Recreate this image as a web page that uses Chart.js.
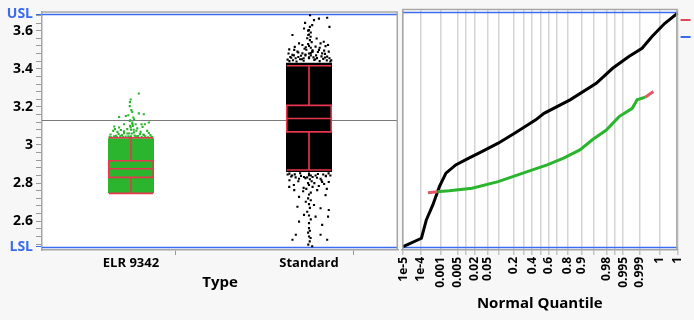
<!DOCTYPE html>
<html><head><meta charset="utf-8">
<script src="https://cdn.jsdelivr.net/npm/chart.js@4"></script>
<style>
html,body{margin:0;padding:0;background:#f7f7f7;}
#wrap{position:relative;width:694px;height:320px;overflow:hidden;}
canvas{position:absolute;top:0;}
#c1{left:0}
#c2{left:392px}
</style></head><body>
<div id="wrap"><canvas id="c1" width="402" height="320"></canvas><canvas id="c2" width="302" height="320"></canvas></div>
<script>
// ---------- data ----------
const categories = ['ELR 9342', 'Standard'];
const Y_MIN = 2.449, Y_MAX = 3.701;
const USL = 3.686, LSL = 2.465, grandMean = 3.13;

const yMajorTicks = [2.6, 2.8, 3.0, 3.2, 3.4, 3.6];
const yMajorLabels = ['2.6', '2.8', '3', '3.2', '3.4', '3.6'];
const yMinorTicks = [2.48,2.52,2.56,2.64,2.68,2.72,2.76,2.84,2.88,2.92,2.96,3.04,3.08,3.12,3.16,3.24,3.28,3.32,3.36,3.44,3.48,3.52,3.56,3.64,3.68];

// box plot stats: [whiskerLow, q1, median, q3, whiskerHigh]
const elrBox = [2.746, 2.830, 2.875, 2.917, 3.038];
const stdBox = [2.869, 3.069, 3.139, 3.208, 3.416];
// dense core of jittered points (value range)
const elrCore = [2.748, 3.035];
const stdCore = [2.858, 3.432];

// individual points (jitter offset from category centre, value)
const elrJitter = [0.044,-0.002,-0.006,-0.007,0.002,-0.029,-0.067,-0.015,0.007,0.013,0.044,0.072,0.017,-0.007,0.007,-0.094,-0.067,-0.039,0.026,0.059,0.078,0.100,-0.100,-0.076,-0.057,-0.021,-0.002,0.035,0.054,0.072,0.109,0.091,-0.085,-0.039,0.017,-0.005,0.010,0.000,0.015,-0.010,0.005,0.020,-0.015,0.000,0.030,-0.020,0.008,-0.004,
 -0.110,-0.095,-0.080,-0.060,-0.045,-0.030,-0.010,0.025,0.040,0.060,0.080,0.095,0.115,-0.115,-0.070,-0.050,0.050,0.070,0.100,-0.090,-0.040,0.030,0.065,0.120,-0.120];
const elrValues = [3.270,3.239,3.225,3.204,3.183,3.152,3.147,3.156,3.173,3.144,3.166,3.161,3.135,3.126,3.118,3.097,3.092,3.109,3.109,3.109,3.109,3.118,3.074,3.069,3.079,3.083,3.092,3.087,3.069,3.052,3.052,3.074,3.048,3.062,3.066,3.100,3.100,3.080,3.080,3.060,3.060,3.050,3.045,3.045,3.045,3.060,3.110,3.130,
 3.040,3.045,3.042,3.048,3.041,3.044,3.040,3.043,3.047,3.041,3.046,3.040,3.043,3.055,3.058,3.052,3.057,3.055,3.063,3.083,3.072,3.075,3.095,3.040,3.043];

const stdJitter = [
 0.006,-0.022,0.028,0.056,0.102,0.018,0.115,-0.028,0.000,-0.004,0.009,-0.093,0.043,-0.056,-0.037,0.065,0.083,0.093,0.107,-0.111,-0.083,-0.065,-0.018,0.037,0.056,0.074,0.111,-0.093,-0.037,0.018,0.102,
 0.005,-0.005,0.010,0.000,-0.010,0.005,0.015,-0.005,0.000,0.010,-0.015,0.020,0.000,-0.020,0.010,0.025,-0.030,0.035,-0.040,0.000,
 -0.110,-0.090,-0.070,-0.050,-0.030,0.030,0.060,0.080,0.100,0.120,-0.100,-0.060,0.000,0.045,0.090,
 -0.120,-0.105,-0.085,-0.075,-0.045,-0.020,0.010,0.040,0.070,0.090,0.115,0.125,-0.115,-0.060,0.020,0.050,0.085,-0.025,0.060,-0.080,
 -0.056,-0.028,0.037,0.065,0.074,0.111,-0.111,-0.083,-0.033,0.046,-0.056,0.093,-0.018,0.028,-0.065,0.065,0.111,-0.028,0.037,0.107,-0.056,0.074,0.000,-0.074,0.065,-0.093,0.102,0.009,-0.004,0.018,0.004,
 0.000,0.010,-0.010,0.005,0.015,-0.005,0.000,0.020,-0.015,0.010,0.000,-0.005,0.010,0.000,0.005,-0.010,0.000,0.010,0.000,0.005,-0.005,0.000,
 -0.110,-0.080,-0.050,0.050,0.080,0.110,-0.095,0.000,0.095,
 -0.120,-0.100,-0.075,-0.045,-0.020,0.020,0.045,0.070,0.095,0.120,-0.110,-0.060,0.030,0.085,-0.085,0.055,-0.030,0.100];
const stdValues = [
 3.681,3.641,3.655,3.663,3.668,3.629,3.620,3.611,3.603,3.577,3.568,3.577,3.559,3.533,3.525,3.533,3.542,3.519,3.525,3.502,3.499,3.490,3.513,3.516,3.499,3.481,3.490,3.473,3.481,3.490,3.464,
 3.620,3.600,3.590,3.580,3.560,3.550,3.540,3.530,3.520,3.510,3.500,3.490,3.480,3.470,3.470,3.460,3.455,3.450,3.450,3.455,
 3.440,3.445,3.438,3.450,3.442,3.446,3.440,3.452,3.444,3.438,3.458,3.462,3.460,3.456,3.459,
 3.448,3.462,3.470,3.455,3.468,3.475,3.482,3.470,3.465,3.478,3.455,3.445,3.480,3.485,3.497,3.488,3.495,3.505,3.510,3.515,
 2.823,2.832,2.840,2.823,2.806,2.806,2.780,2.763,2.757,2.763,2.728,2.737,2.702,2.685,2.676,2.668,2.659,2.633,2.624,2.624,2.598,2.581,2.564,2.529,2.529,2.503,2.503,2.512,2.477,2.469,2.494,
 2.850,2.840,2.830,2.820,2.810,2.800,2.790,2.780,2.770,2.750,2.740,2.720,2.710,2.690,2.670,2.650,2.630,2.610,2.590,2.550,2.540,2.520,
 2.850,2.846,2.852,2.848,2.845,2.851,2.840,2.842,2.838,
 2.845,2.835,2.830,2.838,2.826,2.832,2.828,2.815,2.836,2.840,2.815,2.810,2.800,2.795,2.790,2.785,2.775,2.770];

// normal quantile plot (x = normal quantile z, y = value)
const stdQuantZ = [-4.265,-3.696,-3.544,-3.342,-3.138,-2.934,-2.630,-2.224,-1.819,-1.310,-0.801,-0.143,0.113,0.923,1.737,2.246,2.751,3.160,3.464,3.665,3.870,4.265];
const stdQuantV = [2.466,2.510,2.605,2.683,2.778,2.848,2.891,2.926,2.960,3.004,3.056,3.125,3.159,3.229,3.315,3.393,3.454,3.497,3.557,3.592,3.627,3.679];
const elrQuantZ = [-3.495,-3.200,-2.834,-2.124,-1.310,-0.497,0.213,0.722,1.228,1.636,2.041,2.447,2.855,3.007,3.260,3.513];
const elrQuantV = [2.747,2.752,2.757,2.770,2.804,2.851,2.891,2.926,2.969,3.024,3.071,3.142,3.185,3.229,3.243,3.272];

const quantileTickProbs = [1e-5,1e-4,0.001,0.005,0.01,0.02,0.05,0.1,0.2,0.3,0.4,0.5,0.6,0.7,0.8,0.9,0.95,0.98,0.99,0.995,0.999,0.9999,0.99999];
const quantileTickLabels = ['1e-5','1e-4','0.001','0.005','','0.02','0.05','','0.2','','0.4','','0.6','','0.8','0.9','','0.98','','0.995','0.999','1','1'];

// ---------- styling ----------
const GREEN = '#2bb52f', RED = '#e8364e', BLUE = '#3b6cf0', FRAME = '#a6a6a6';
Chart.defaults.font.family = "'Open Sans', 'Noto Sans', sans-serif";
Chart.defaults.color = '#000';

function probit(p){
 const a=[-3.969683028665376e+01,2.209460984245205e+02,-2.759285104469687e+02,1.383577518672690e+02,-3.066479806614716e+01,2.506628277459239e+00];
 const b=[-5.447609879822406e+01,1.615858368580409e+02,-1.556989798598866e+02,6.680131188771972e+01,-1.328068155288572e+01];
 const c=[-7.784894002430293e-03,-3.223964580411365e-01,-2.400758277161838e+00,-2.549732539343734e+00,4.374664141464968e+00,2.938163982698783e+00];
 const d=[7.784695709041462e-03,3.224671290700398e-01,2.445134137142996e+00,3.754408661907416e+00];
 const pl=0.02425, ph=1-pl; let q,r;
 if(p<pl){q=Math.sqrt(-2*Math.log(p));return (((((c[0]*q+c[1])*q+c[2])*q+c[3])*q+c[4])*q+c[5])/((((d[0]*q+d[1])*q+d[2])*q+d[3])*q+1);}
 if(p<=ph){q=p-0.5;r=q*q;return (((((a[0]*r+a[1])*r+a[2])*r+a[3])*r+a[4])*r+a[5])*q/(((((b[0]*r+b[1])*r+b[2])*r+b[3])*r+b[4])*r+1);}
 q=Math.sqrt(-2*Math.log(1-p));return -(((((c[0]*q+c[1])*q+c[2])*q+c[3])*q+c[4])*q+c[5])/((((d[0]*q+d[1])*q+d[2])*q+d[3])*q+1);
}

const bgPlugin = {
  id:'bgFrame',
  beforeDraw(chart){
    const {ctx, chartArea:a} = chart;
    ctx.save(); ctx.fillStyle='#fff'; ctx.fillRect(a.left,a.top,a.right-a.left,a.bottom-a.top); ctx.restore();
  },
  afterDraw(chart, args, opts){
    const {ctx, chartArea:a} = chart;
    ctx.save(); ctx.strokeStyle=FRAME; ctx.lineWidth=1.5;
    ctx.beginPath();
    ctx.moveTo(a.left, a.top+0.5); ctx.lineTo(a.right, a.top+0.5);
    if (opts.left) { ctx.moveTo(a.left+0.75, a.top); ctx.lineTo(a.left+0.75, a.bottom); }
    ctx.moveTo(a.right-0.75, a.top); ctx.lineTo(a.right-0.75, a.bottom);
    ctx.stroke();
    if (opts.legendBits) {
      ctx.fillStyle = '#e04858'; ctx.fillRect(a.right+3, 19, 10, 2);
      ctx.fillStyle = BLUE; ctx.fillRect(a.right+3, 36, 10, 2);
    }
    ctx.restore();
  }
};

const refLinesPlugin = {
  id:'refLines',
  beforeDatasetsDraw(chart, args, opts){
    const {ctx, chartArea:a, scales:{y}} = chart;
    ctx.save();
    for (const l of opts.lines){
      const py = Math.round(y.getPixelForValue(l.value)) + 0.5;
      ctx.strokeStyle = l.color; ctx.lineWidth = l.width;
      ctx.beginPath(); ctx.moveTo(a.left, py); ctx.lineTo(a.right, py); ctx.stroke();
    }
    ctx.restore();
  }
};

const boxPlugin = {
  id:'boxes',
  afterDatasetsDraw(chart, args, opts){
    const {ctx, scales:{x,y}} = chart;
    ctx.save(); ctx.strokeStyle = RED; ctx.lineWidth = 1.6;
    opts.boxes.forEach((s, i) => {
      const cx = x.getPixelForValue(i + 0.5);
      const hw = (x.getPixelForValue(i + 0.5 + opts.halfWidth) - cx);
      const [wl, q1, md, q3, wh] = s.map(v => y.getPixelForValue(v));
      ctx.beginPath();
      ctx.rect(cx-hw, q3, 2*hw, q1-q3);
      ctx.moveTo(cx-hw, md); ctx.lineTo(cx+hw, md);
      ctx.moveTo(cx, q3); ctx.lineTo(cx, wh);
      ctx.moveTo(cx, q1); ctx.lineTo(cx, wl);
      ctx.moveTo(cx-hw, wh); ctx.lineTo(cx+hw, wh);
      ctx.moveTo(cx-hw, wl); ctx.lineTo(cx+hw, wl);
      ctx.stroke();
    });
    ctx.restore();
  }
};

const elrPts = elrJitter.map((o,i)=>({x:0.5+o, y:elrValues[i]}));
const stdPts = stdJitter.map((o,i)=>({x:1.5+o, y:stdValues[i]}));
const typeTickPos = [0, 0.5, 1, 1.5, 2];
const typeTickLabels = ['', categories[0], '', categories[1], ''];

const yTickValues = [LSL, ...yMinorTicks, ...yMajorTicks, USL].sort((a,b)=>a-b);
function yLabel(v){
  if (v === USL) return 'USL';
  if (v === LSL) return 'LSL';
  const k = yMajorTicks.findIndex(t => Math.abs(t - v) < 1e-9);
  return k >= 0 ? yMajorLabels[k] : '';
}
const isSpec = v => v === USL || v === LSL;

new Chart(document.getElementById('c1'), {
  type:'scatter',
  data:{datasets:[
    {type:'scatter', label:categories[0], data:elrPts, backgroundColor:GREEN, borderWidth:0, pointStyle:'rect', pointRadius:1.5},
    {type:'scatter', label:categories[1], data:stdPts, backgroundColor:'#000', borderWidth:0, pointStyle:'rect', pointRadius:1.5},
    {type:'bar', label:'core', data:[{x:0.5, y:elrCore},{x:1.5, y:stdCore}], backgroundColor:[GREEN,'#000'], borderColor:[GREEN,'#000'], barThickness:46, grouped:false, borderWidth:0, inflateAmount:0}
  ]},
  options:{
    responsive:false, animation:false, events:[],
    layout:{padding:{top:9,left:0,right:0,bottom:0}},
    plugins:{
      legend:{display:false}, tooltip:{enabled:false},
      bgFrame:{left:false},
      refLines:{lines:[{value:grandMean,color:'#7a7a7a',width:1},{value:USL,color:BLUE,width:1.5},{value:LSL,color:BLUE,width:1.5}]},
      boxes:{boxes:[elrBox, stdBox], halfWidth:0.125}
    },
    scales:{
      x:{type:'linear', min:0, max:2, offset:false,
        afterFit(s){ s.height = 70; },
        afterBuildTicks(s){ s.ticks = typeTickPos.map(v=>({value:v})); },
        ticks:{autoSkip:false, maxRotation:0, minRotation:0, padding:0, font:{size:13, weight:'bold'}, callback:(v,i)=>typeTickLabels[i]},
        grid:{drawOnChartArea:false, tickLength:5, tickColor:c => (c.tick && c.tick.value % 1 !== 0) ? 'rgba(0,0,0,0)' : '#999'},
        border:{color:FRAME, width:1.5},
        title:{display:true, text:'Type', font:{size:15, weight:'bold'}, padding:{top:0,bottom:28}}
      },
      y:{type:'linear', min:Y_MIN, max:Y_MAX,
        afterFit(s){ s.width = 42; },
        afterBuildTicks(s){ s.ticks = yTickValues.map(v=>({value:v})); },
        ticks:{autoSkip:false, padding:3, font:{size:14, weight:'bold'},
          callback:(v,i)=>yLabel(yTickValues[i]),
          color:c => isSpec(yTickValues[c.index]) ? BLUE : '#000'},
        grid:{drawOnChartArea:false, tickLength:6, tickColor:c => (c.tick && isSpec(c.tick.value)) ? BLUE : '#999'},
        border:{color:FRAME, width:1.5}
      }
    }
  },
  plugins:[bgPlugin, refLinesPlugin, boxPlugin]
});

const stdQ = stdQuantZ.map((z,i)=>({x:z, y:stdQuantV[i]}));
const elrQ = elrQuantZ.map((z,i)=>({x:z, y:elrQuantV[i]}));
const quantTickZ = quantileTickProbs.map(probit);

new Chart(document.getElementById('c2'), {
  type:'line',
  data:{datasets:[
    {label:categories[0], data:elrQ, borderColor:GREEN, borderWidth:3, pointRadius:0, tension:0,
      segment:{borderColor:c => (c.p0DataIndex === 0 || c.p0DataIndex >= elrQuantZ.length-2) ? '#df5a68' : GREEN}},
    {label:categories[1], data:stdQ, borderColor:'#000', borderWidth:3, pointRadius:0, tension:0}
  ]},
  options:{
    responsive:false, animation:false, events:[],
    layout:{padding:{top:9,left:10,right:11,bottom:0}},
    plugins:{
      legend:{display:false}, tooltip:{enabled:false},
      bgFrame:{left:true, legendBits:true},
      refLines:{lines:[{value:USL,color:BLUE,width:1.5},{value:LSL,color:BLUE,width:1.5}]}
    },
    scales:{
      x:{type:'linear', min:-4.3, max:probit(0.99999),
        afterFit(s){ s.height = 70; },
        afterBuildTicks(s){ s.ticks = quantTickZ.map(v=>({value:v})); },
        ticks:{autoSkip:false, minRotation:90, maxRotation:90, padding:2, font:{size:12, weight:'bold'}, callback:(v,i)=>quantileTickLabels[i]},
        grid:{color:'#d4d4d4', lineWidth:1.5, tickLength:5, tickColor:'#c4c4c4'},
        border:{color:FRAME, width:1.5},
        title:{display:true, text:'Normal Quantile', font:{size:15, weight:'bold'}, padding:{top:0,bottom:7}}
      },
      y:{type:'linear', display:false, min:Y_MIN, max:Y_MAX}
    }
  },
  plugins:[bgPlugin, refLinesPlugin]
});
</script>
</body></html>
